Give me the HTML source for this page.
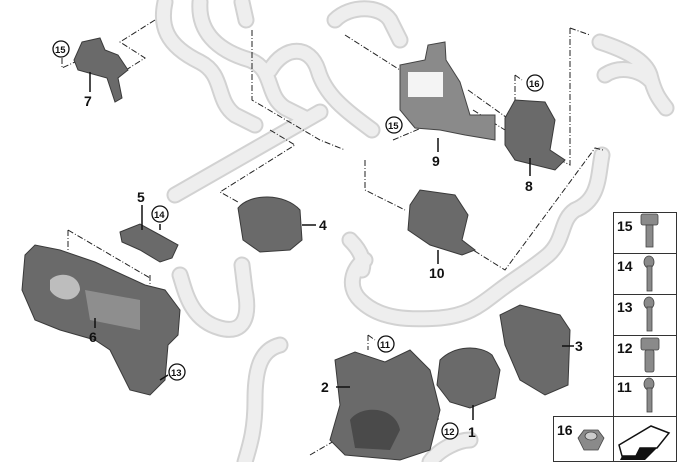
<!DOCTYPE html>
<html><head><meta charset="utf-8"><style>
html,body{margin:0;padding:0;background:#fff}
svg{display:block}
text{font-family:"Liberation Sans",Arial,sans-serif;font-weight:bold;fill:#111}
.h1{fill:none;stroke:#d2d2d2;stroke-linecap:round;stroke-linejoin:round}
.h2{fill:none;stroke:#eeeeee;stroke-linecap:round;stroke-linejoin:round}
.d{fill:none;stroke:#222;stroke-width:1;stroke-dasharray:6 2 1 2}
.l{stroke:#111;stroke-width:1.5}
.p{fill:#6a6a6a;stroke:#3a3a3a;stroke-width:1}
.p2{fill:#8a8a8a;stroke:#444;stroke-width:1}
.c{fill:#fff;stroke:#111;stroke-width:1.3}
</style></head><body>
<svg width="680" height="462" viewBox="0 0 680 462">
<defs>
<g fill="none">
<path id="a" d="M165 2 C160 25 165 45 200 62 C225 75 215 100 235 115 L255 125"/>
<path id="b" d="M200 2 C198 30 215 50 250 60 C275 70 265 95 285 108 L305 118"/>
<path id="c" d="M242 2 L246 20"/>
<path id="dd" d="M270 70 C285 45 310 45 318 70 C325 95 345 110 372 130"/>
<path id="e" d="M175 195 L320 112"/>
<path id="f" d="M335 20 C350 5 380 5 390 20 L400 40"/>
<path id="g" d="M600 42 C625 50 645 60 650 75 C655 95 660 100 666 108"/>
<path id="g2" d="M605 75 C620 65 640 70 650 80"/>
<path id="h" d="M602 155 C598 175 600 200 575 210 C560 220 565 240 548 255 C530 270 520 275 500 290 C480 305 470 315 440 318 C410 320 380 320 360 300 C345 285 355 265 365 260"/>
<path id="h3" d="M350 240 C360 250 365 260 362 270"/>
<path id="i" d="M180 275 C185 290 190 320 220 328 C245 335 250 315 245 290 L242 265"/>
<path id="j" d="M280 345 C260 350 255 370 255 400 C255 430 250 445 245 462"/>
<path id="k" d="M430 462 C440 448 460 440 470 440"/>
</g>
</defs>
<g class="h1" stroke-width="17"><use href="#a"/><use href="#b"/><use href="#c"/><use href="#dd"/><use href="#e"/><use href="#f"/><use href="#g"/><use href="#g2"/><use href="#h"/><use href="#h3"/><use href="#i"/><use href="#j"/><use href="#k"/></g>
<g class="h2" stroke-width="13"><use href="#a"/><use href="#b"/><use href="#c"/><use href="#dd"/><use href="#e"/><use href="#f"/><use href="#g"/><use href="#g2"/><use href="#h"/><use href="#h3"/><use href="#i"/><use href="#j"/><use href="#k"/></g>

<!-- dash leaders -->
<path class="d" d="M155 20 L120 42 L145 58 L118 75"/>
<path class="d" d="M62 58 L62 68 L75 62"/>
<path class="d" d="M252 30 L252 100 L320 140 L345 150"/>
<path class="d" d="M345 35 L400 70"/>
<path class="d" d="M365 160 L365 190 L405 210"/>
<path class="d" d="M270 130 L295 145 L220 192 L238 202"/>
<path class="d" d="M468 90 L510 120"/>
<path class="d" d="M473 110 L505 130"/>
<path class="d" d="M393 140 L445 118"/>
<path class="d" d="M515 75 L515 115 M515 75 L522 80"/>
<path class="d" d="M570 28 L590 35 M570 28 L570 165 L560 160"/>
<path class="d" d="M465 245 L505 270 L595 148 L603 150"/>
<path class="d" d="M68 230 L68 250 M68 230 L150 278 L150 280"/>
<path class="d" d="M150 275 L150 285"/>
<path class="d" d="M368 335 L368 350 M368 335 L375 340"/>
<path class="d" d="M505 340 L540 320"/>
<path class="d" d="M405 400 L440 420 M400 405 L430 385"/>
<path class="d" d="M310 455 L370 420"/>

<!-- part 7 bracket -->
<path class="p" d="M82 42 L100 38 L105 50 L118 55 L128 70 L118 78 L122 98 L115 102 L107 78 L78 70 L74 60 Z"/>
<!-- part 9 bracket -->
<path class="p2" d="M400 65 L425 60 L428 45 L445 42 L446 60 L460 82 L470 115 L495 115 L495 140 L465 135 L440 130 L415 128 L400 110 Z"/>
<rect x="408" y="72" width="35" height="25" fill="#fff" opacity=".9"/>
<!-- part 8 module -->
<path class="p" d="M505 118 L515 100 L545 102 L555 120 L550 150 L565 160 L555 170 L515 160 L505 145 Z"/>
<!-- part 10 module -->
<path class="p" d="M410 205 L420 190 L455 195 L468 215 L462 240 L475 250 L462 255 L430 245 L408 230 Z"/>
<!-- part 4 pump -->
<path class="p" d="M238 208 C250 193 285 193 300 210 L302 240 L290 250 L260 252 L243 240 Z"/>
<!-- part 5 valve -->
<path class="p" d="M120 232 L140 224 L160 235 L178 245 L172 258 L160 262 L140 250 L122 242 Z"/>
<!-- part 6 housing -->
<path class="p" d="M25 255 L35 245 L60 250 L95 262 L145 285 L165 290 L180 310 L178 335 L168 345 L165 380 L150 395 L130 390 L110 350 L95 340 L60 330 L35 320 L22 290 Z"/>
<path d="M50 280 C60 270 80 275 80 290 C75 305 55 300 50 290 Z" fill="#bdbdbd"/>
<path d="M85 290 L140 300 L140 330 L90 320 Z" fill="#8e8e8e"/>
<!-- part 2 bracket -->
<path class="p" d="M335 360 L355 352 L385 362 L410 350 L430 370 L440 410 L430 450 L400 460 L345 455 L330 440 L340 405 Z"/>
<path d="M350 420 C360 405 395 405 400 430 L390 450 L355 448 Z" fill="#4a4a4a"/>
<!-- part 1 pump -->
<path class="p" d="M440 360 C455 345 480 345 492 355 L500 370 L495 398 L470 408 L450 402 L437 385 Z"/>
<!-- part 3 cover -->
<path class="p" d="M500 315 L520 305 L560 315 L570 330 L568 385 L545 395 L520 380 L505 345 Z"/>

<!-- lead lines -->
<line class="l" x1="90" y1="72" x2="90" y2="92"/>
<line class="l" x1="438" y1="138" x2="438" y2="152"/>
<line class="l" x1="530" y1="158" x2="530" y2="176"/>
<line class="l" x1="438" y1="250" x2="438" y2="264"/>
<line class="l" x1="302" y1="225" x2="316" y2="225"/>
<line class="l" x1="142" y1="205" x2="142" y2="230"/>
<line class="l" x1="160" y1="224" x2="160" y2="230"/>
<line class="l" x1="95" y1="318" x2="95" y2="328"/>
<line class="l" x1="336" y1="387" x2="350" y2="387"/>
<line class="l" x1="473" y1="405" x2="473" y2="420"/>
<line class="l" x1="562" y1="346" x2="574" y2="346"/>
<line class="l" x1="160" y1="380" x2="168" y2="375"/>

<!-- labels -->
<g font-size="14">
<text x="84" y="106">7</text>
<text x="432" y="166">9</text>
<text x="525" y="191">8</text>
<text x="429" y="278">10</text>
<text x="319" y="230">4</text>
<text x="137" y="202">5</text>
<text x="89" y="342">6</text>
<text x="321" y="392">2</text>
<text x="468" y="437">1</text>
<text x="575" y="351">3</text>
</g>
<g>
<circle class="c" cx="61" cy="49" r="8"/><text x="55" y="53" font-size="9.5">15</text>
<circle class="c" cx="394" cy="125" r="8"/><text x="388" y="129" font-size="9.5">15</text>
<circle class="c" cx="535" cy="83" r="8"/><text x="529" y="87" font-size="9.5">16</text>
<circle class="c" cx="160" cy="214" r="8"/><text x="154" y="218" font-size="9.5">14</text>
<circle class="c" cx="177" cy="372" r="8"/><text x="171" y="376" font-size="9.5">13</text>
<circle class="c" cx="386" cy="344" r="8"/><text x="380" y="348" font-size="9.5">11</text>
<circle class="c" cx="450" cy="431" r="8"/><text x="444" y="435" font-size="9.5">12</text>
</g>

<!-- table -->
<g fill="none" stroke="#333" stroke-width="1">
<rect x="613.5" y="212.5" width="63" height="204"/>
<line x1="613" y1="253.5" x2="677" y2="253.5"/>
<line x1="613" y1="294.5" x2="677" y2="294.5"/>
<line x1="613" y1="335.5" x2="677" y2="335.5"/>
<line x1="613" y1="376.5" x2="677" y2="376.5"/>
<rect x="553.5" y="416.5" width="123" height="45"/>
<line x1="613.5" y1="416" x2="613.5" y2="462"/>
</g>
<g font-size="14">
<text x="617" y="231">15</text>
<text x="617" y="271">14</text>
<text x="617" y="312">13</text>
<text x="617" y="353">12</text>
<text x="617" y="392">11</text>
<text x="557" y="435">16</text>
</g>
<g fill="#8a8a8a" stroke="#444" stroke-width=".8">
<rect x="641" y="214" width="17" height="11" rx="2"/><rect x="646" y="225" width="7" height="22"/>
<ellipse cx="649" cy="262" rx="5" ry="6"/><rect x="647" y="266" width="5" height="25"/>
<ellipse cx="649" cy="303" rx="5" ry="6"/><rect x="647" y="307" width="5" height="24"/>
<rect x="641" y="338" width="18" height="12" rx="2"/><rect x="645" y="350" width="9" height="22" rx="2"/>
<ellipse cx="649" cy="384" rx="5" ry="6"/><rect x="647" y="388" width="5" height="24"/>
<path d="M578 438 L584 430 L598 430 L604 438 L598 450 L584 450 Z"/>
<ellipse cx="591" cy="436" rx="6" ry="4" fill="#ccc"/>
</g>
<path d="M619 445 L651 426 L669 433 L657 448 L640 448 L636 456 L622 456 Z" fill="#fff" stroke="#111" stroke-width="1.5"/>
<path d="M622 456 L636 456 L640 448 L657 448 L650 455 L645 460 L620 460 Z" fill="#111"/>
</svg>
</body></html>
